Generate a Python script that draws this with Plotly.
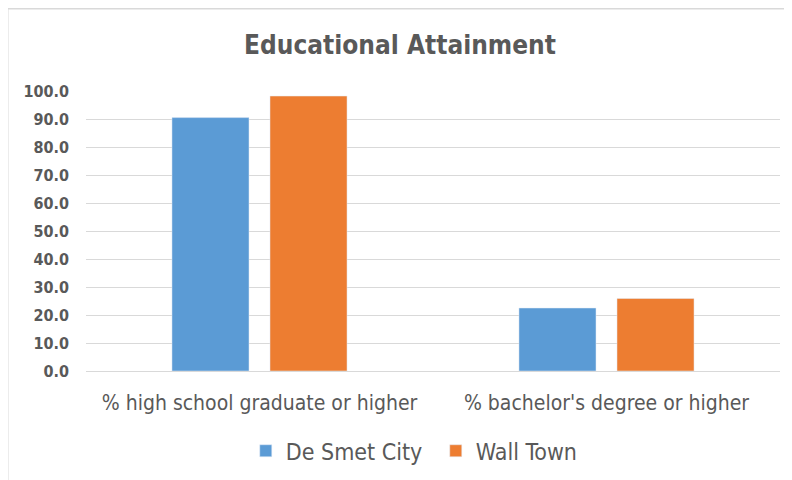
import plotly.graph_objects as go

categories = ["% high school graduate or higher", "% bachelor's degree or higher"]
de_smet_city = [90.5, 22.5]
wall_town = [98.2, 25.9]
y_ticks = [0, 10, 20, 30, 40, 50, 60, 70, 80, 90, 100]

GREY = "#595959"
FONT = "Liberation Sans Narrow, DejaVu Sans Condensed, Roboto, sans-serif"

fig = go.Figure()
fig.add_bar(x=categories, y=de_smet_city, name="De Smet City", marker_color="#5B9BD5")
fig.add_bar(x=categories, y=wall_town, name="Wall Town", marker_color="#ED7D31")

# page body has an 8px margin, so the figure is a bit smaller than the window
fig.update_layout(
    width=784,
    height=472,
    margin=dict(l=78, r=12, t=83, b=109, autoexpand=False),
    paper_bgcolor="white",
    plot_bgcolor="white",
    barmode="group",
    bargap=0.435,
    bargroupgap=0.214,
    font=dict(family=FONT, color=GREY),
    title=dict(
        text="<b>Educational Attainment</b>",
        x=0.5, xanchor="center", y=0.921, yanchor="middle",
        font=dict(size=26, color=GREY, family=FONT),
    ),
    legend=dict(
        orientation="h", x=0.504, xanchor="center", y=-0.285, yanchor="middle",
        font=dict(size=23, color=GREY, family=FONT),
        itemwidth=30, entrywidth=145, entrywidthmode="pixels",
    ),
    showlegend=True,
)
fig.update_xaxes(
    showgrid=False, showline=False, ticks="", automargin=False,
    ticklabelstandoff=17,
    tickfont=dict(size=21, color=GREY, family=FONT),
)
fig.update_yaxes(
    range=[0, 100], tickvals=y_ticks,
    ticktext=[f"<b>{v:.1f}</b>" for v in y_ticks],
    showgrid=True, gridcolor="#d9d9d9", gridwidth=1,
    zeroline=True, zerolinecolor="#d9d9d9", zerolinewidth=1,
    showline=False, ticks="", ticklabelstandoff=16, automargin=False,
    tickfont=dict(size=16, color=GREY, family=FONT),
)
fig.update_layout(shapes=[
    dict(type="line", xref="paper", yref="paper", x0=-0.1131, x1=1.1, y0=1.2946, y1=1.2946,
         line=dict(color="#d9d9d9", width=2)),
    dict(type="line", xref="paper", yref="paper", x0=-0.1131, x1=-0.1131, y0=-0.5, y1=1.2946,
         line=dict(color="#d9d9d9", width=2)),
])

fig.write_html("out.html")
